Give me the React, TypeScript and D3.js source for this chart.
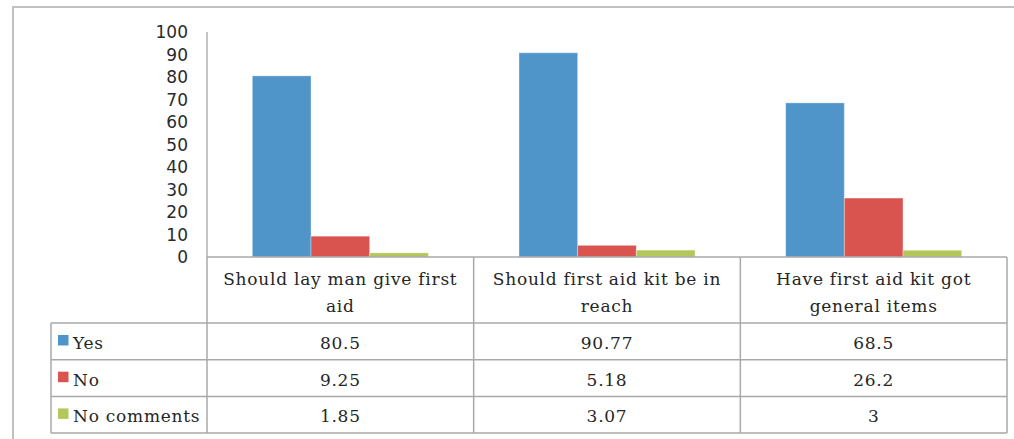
import React from "react";
import * as d3 from "d3";

const categories: string[][] = [
  ["Should lay man give first", "aid"],
  ["Should first aid kit be in", "reach"],
  ["Have first aid kit got", "general items"],
];
const seriesNames = ["Yes", "No", "No comments"];
const yesValues = [80.5, 90.77, 68.5];
const noValues = [9.25, 5.18, 26.2];
const noCommentValues = [1.85, 3.07, 3];
const seriesLabels = [
  ["80.5", "90.77", "68.5"],
  ["9.25", "5.18", "26.2"],
  ["1.85", "3.07", "3"],
];
const yTicks = [0, 10, 20, 30, 40, 50, 60, 70, 80, 90, 100];
const colors = ["#4F95CA", "#D9544F", "#B4C75B"];

const W = 1014;
const H = 439;
const plotLeft = 207;
const plotRight = 1007;
const plotTop = 32;
const plotBottom = 257;
const headerBottom = 323;
const rowH = 36.7;
const legendLeft = 51;

export default function App() {
  const series = [yesValues, noValues, noCommentValues];
  const x = d3
    .scaleBand<number>()
    .domain(categories.map((_, i) => i))
    .range([plotLeft, plotRight])
    .padding(0);
  const groupW = 176;
  const inner = d3
    .scaleBand<number>()
    .domain(seriesNames.map((_, i) => i))
    .range([(x.bandwidth() - groupW) / 2, (x.bandwidth() + groupW) / 2])
    .padding(0);
  const y = d3.scaleLinear().domain([0, 100]).range([plotBottom, plotTop]);

  const tableBottom = headerBottom + rowH * 3;
  const lineColor = "#A9A9A9";
  const serif = "DejaVu Serif, Liberation Serif, serif";
  const textStyle = { fontFamily: serif, fontSize: 17, letterSpacing: 0.75 };

  return (
    <svg
      width={W}
      height={H}
      style={{ position: "absolute", left: 0, top: 0, background: "#fff" }}
    >
      <rect x={0} y={0} width={W} height={H} fill="#fff" />
      <rect
        x={13}
        y={7}
        width={W + 20}
        height={H + 20}
        fill="none"
        stroke="#C0C0C0"
        strokeWidth={2}
      />
      <line
        x1={plotLeft}
        x2={plotLeft}
        y1={plotTop}
        y2={plotBottom}
        stroke="#8C8C8C"
        strokeWidth={1}
      />
      {yTicks.map((t) => (
        <text
          key={t}
          x={188}
          y={y(t)}
          dy="0.36em"
          textAnchor="end"
          style={{ fontFamily: "DejaVu Sans, Verdana, sans-serif", fontSize: 17 }}
          fill="#2a2a2a"
        >
          {t}
        </text>
      ))}
      {series.map((vals, s) =>
        vals.map((v, c) => (
          <rect
            key={`${s}-${c}`}
            x={(x(c) as number) + (inner(s) as number)}
            y={y(v)}
            width={inner.bandwidth()}
            height={plotBottom - y(v)}
            fill={colors[s]}
            stroke="rgba(255,255,255,0.35)"
            strokeWidth={1}
          />
        ))
      )}
      <g stroke={lineColor} strokeWidth={1.5} fill="none">
        <line x1={plotLeft} x2={plotRight} y1={plotBottom} y2={plotBottom} />
        <line x1={legendLeft} x2={plotRight} y1={headerBottom} y2={headerBottom} />
        {[1, 2, 3].map((r) => (
          <line
            key={r}
            x1={legendLeft}
            x2={plotRight}
            y1={headerBottom + rowH * r}
            y2={headerBottom + rowH * r}
          />
        ))}
        <line x1={legendLeft} x2={legendLeft} y1={headerBottom} y2={tableBottom} />
        {categories.map((_, i) => (
          <line
            key={i}
            x1={x(i) as number}
            x2={x(i) as number}
            y1={plotBottom}
            y2={tableBottom}
          />
        ))}
        <line x1={plotRight} x2={plotRight} y1={plotBottom} y2={tableBottom} />
      </g>
      {categories.map((lines, i) => (
        <text
          key={i}
          x={(x(i) as number) + x.bandwidth() / 2}
          textAnchor="middle"
          style={textStyle}
          fill="#262626"
        >
          {lines.map((l, k) => (
            <tspan key={k} x={(x(i) as number) + x.bandwidth() / 2} y={285 + k * 27}>
              {l}
            </tspan>
          ))}
        </text>
      ))}
      {seriesNames.map((name, s) => {
        const base = headerBottom + rowH * s;
        return (
          <g key={name}>
            <rect x={58} y={base + 12} width={10.5} height={10.5} fill={colors[s]} />
            <text x={73} y={base + 26} style={textStyle} fill="#262626">
              {name}
            </text>
            {seriesLabels[s].map((lab, c) => (
              <text
                key={c}
                x={(x(c) as number) + x.bandwidth() / 2}
                y={base + 26}
                textAnchor="middle"
                style={textStyle}
                fill="#262626"
              >
                {lab}
              </text>
            ))}
          </g>
        );
      })}
    </svg>
  );
}
